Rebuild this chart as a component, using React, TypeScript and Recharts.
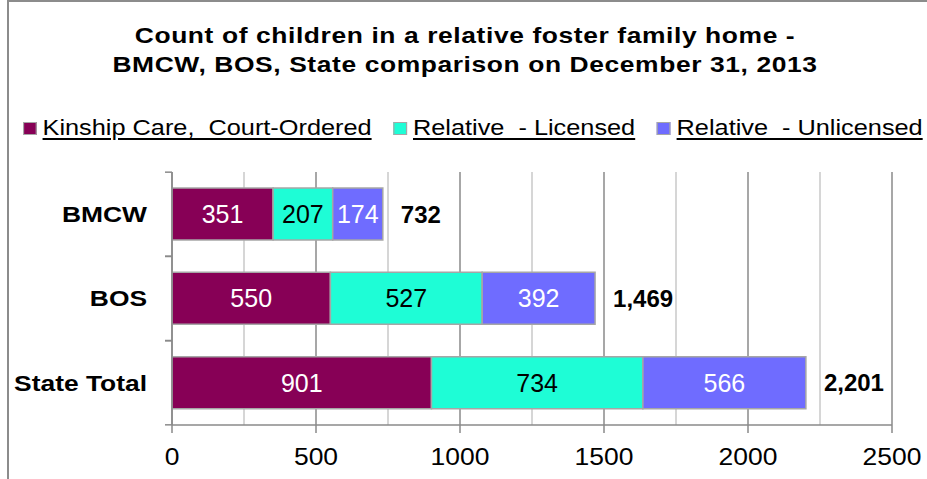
import React from 'react';
import { BarChart, Bar, XAxis, YAxis, CartesianGrid, LabelList } from 'recharts';

const categories = ['BMCW', 'BOS', 'State Total'];
const kinship = [351, 550, 901];
const licensed = [207, 527, 734];
const unlicensed = [174, 392, 566];
const totals = [732, 1469, 2201];
const majorTicks = [0, 500, 1000, 1500, 2000, 2500];
const minorTicks = [250, 750, 1250, 1750, 2250];

const titleLines = [
  'Count of children in a relative foster family home -',
  'BMCW, BOS, State comparison on December 31, 2013',
];

const seriesNames = ['Kinship Care,  Court-Ordered', 'Relative  - Licensed', 'Relative  - Unlicensed'];
const seriesKeys = ['kinship', 'licensed', 'unlicensed'];
const seriesColors = ['#870056', '#1efdd6', '#6f6cff'];
const labelColors = ['#ffffff', '#000000', '#ffffff'];

const data = categories.map((name, i) => ({
  name,
  kinship: kinship[i],
  licensed: licensed[i],
  unlicensed: unlicensed[i],
  total: totals[i],
}));

const FONT = '"Liberation Sans", Arial, sans-serif';
const BAND_HALF = 42;

const YTick = (props: any) => {
  const { x, y, payload } = props;
  return (
    <g>
      <line x1={x - 7} x2={x} y1={y - BAND_HALF} y2={y - BAND_HALF} stroke="#8a8a8a" strokeWidth={1.5} />
      <line x1={x - 7} x2={x} y1={y + BAND_HALF} y2={y + BAND_HALF} stroke="#8a8a8a" strokeWidth={1.5} />
      <text
        transform={`translate(${x - 25},${y}) scale(1.2,1)`}
        x={0}
        y={0}
        textAnchor="end"
        dominantBaseline="central"
        style={{ fontSize: 22, fontWeight: 'bold', fill: '#000' }}
      >
        {payload.value}
      </text>
    </g>
  );
};

const XTick = (props: any) => {
  const { x, y, payload } = props;
  return (
    <text
      transform={`translate(${x},${y}) scale(1.15,1)`}
      x={0}
      y={0}
      dy="0.71em"
      textAnchor="middle"
      style={{ fontSize: 23, fill: '#000' }}
    >
      {payload.value}
    </text>
  );
};

export default function App() {
  return (
    <div
      style={{
        position: 'absolute',
        left: 0,
        top: 0,
        width: 927,
        height: 479,
        overflow: 'hidden',
        background: '#fff',
        fontFamily: FONT,
      }}
    >
      <div
        style={{
          position: 'absolute',
          left: 7,
          top: 0,
          width: 1200,
          height: 800,
          border: '2px solid #8c8c8c',
          boxSizing: 'border-box',
        }}
      />
      <div
        style={{
          position: 'absolute',
          left: 0,
          top: 21,
          width: 930,
          textAlign: 'center',
          fontSize: 22,
          fontWeight: 'bold',
          lineHeight: '29px',
          letterSpacing: 0.5,
          color: '#000',
          transform: 'scaleX(1.2)',
          transformOrigin: '465px 0',
        }}
      >
        {titleLines.map((t) => (
          <div key={t}>{t}</div>
        ))}
      </div>
      <div
        style={{
          position: 'absolute',
          left: 23,
          top: 115,
          height: 26,
          display: 'flex',
          alignItems: 'center',
          whiteSpace: 'pre',
          fontSize: 22,
          lineHeight: '26px',
          color: '#000',
          transform: 'scaleX(1.15)',
          transformOrigin: '0 0',
        }}
      >
        {seriesNames.map((n, i) => (
          <div key={n} style={{ display: 'flex', alignItems: 'center', marginRight: 19 }}>
            <div
              style={{
                width: 10,
                height: 11,
                background: seriesColors[i],
                border: '1px solid #a6a6a6',
                marginRight: 5,
              }}
            />
            <span style={{ textDecoration: 'underline', textDecorationThickness: 2, textUnderlineOffset: 3 }}>{n}</span>
          </div>
        ))}
      </div>
      <div style={{ position: 'absolute', left: 0, top: 0 }}>
        <BarChart
          width={927}
          height={479}
          data={data}
          layout="vertical"
          margin={{ top: 172, right: 35, bottom: 0, left: 12 }}
          barSize={52}
        >
          <CartesianGrid horizontal={false} verticalValues={minorTicks} stroke="#c8c8c8" strokeWidth={1.5} />
          <CartesianGrid horizontal={false} verticalValues={majorTicks} stroke="#8a8a8a" strokeWidth={1.5} />
          <XAxis
            type="number"
            domain={[0, 2500]}
            ticks={majorTicks}
            interval={0}
            tickSize={8}
            tickMargin={16}
            tick={<XTick />}
            axisLine={{ stroke: '#8a8a8a', strokeWidth: 1.5 }}
            tickLine={{ stroke: '#8a8a8a', strokeWidth: 1.5 }}
            height={54}
          />
          <YAxis
            type="category"
            dataKey="name"
            width={160}
            tickSize={0}
            tickMargin={0}
            tickLine={false}
            axisLine={{ stroke: '#8a8a8a', strokeWidth: 1.5 }}
            tick={<YTick />}
          />
          {seriesKeys.map((k, i) => (
            <Bar
              key={k}
              dataKey={k}
              name={seriesNames[i]}
              stackId="a"
              fill={seriesColors[i]}
              stroke="#a6a6a6"
              strokeWidth={1.5}
              isAnimationActive={false}
            >
              <LabelList dataKey={k} position="center" style={{ fontSize: 25, fill: labelColors[i] }} />
              {i === seriesKeys.length - 1 && (
                <LabelList
                  dataKey="total"
                  position="right"
                  offset={18}
                  formatter={(v: any) => Number(v).toLocaleString('en-US')}
                  style={{ fontSize: 24, fontWeight: 'bold', fill: '#000' }}
                />
              )}
            </Bar>
          ))}
        </BarChart>
      </div>
    </div>
  );
}
